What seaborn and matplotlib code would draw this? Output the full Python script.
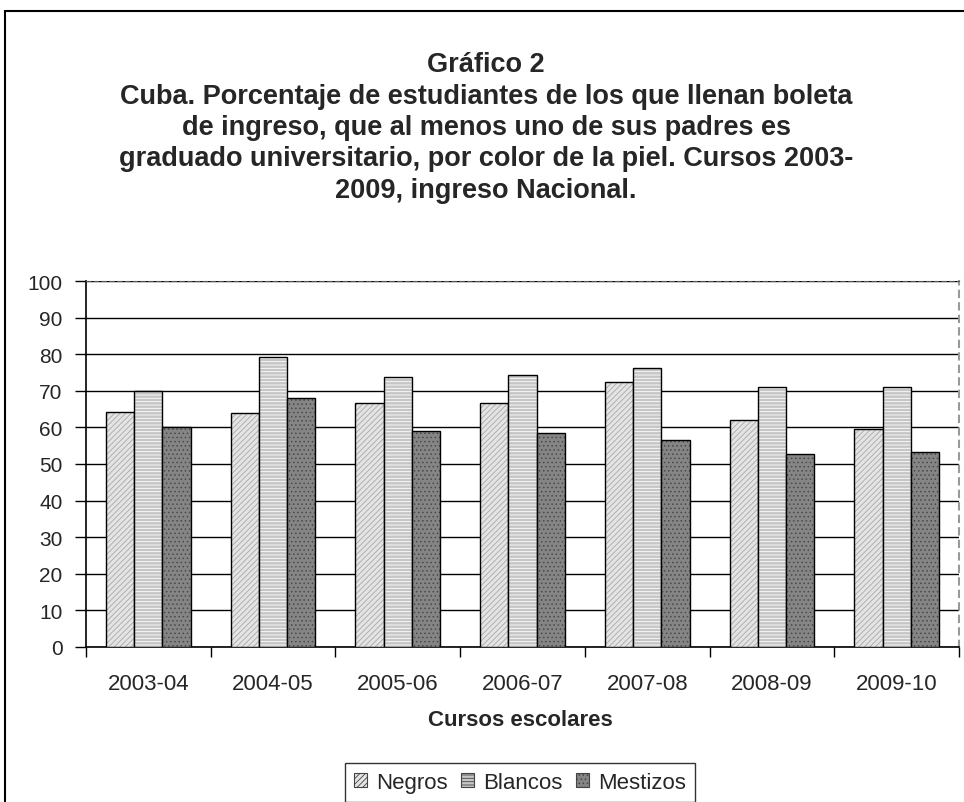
import pandas as pd
import numpy as np
import matplotlib
matplotlib.use("Agg")
import matplotlib.pyplot as plt
import matplotlib.colors as mcolors
from matplotlib.patches import Rectangle, Patch
import seaborn as sns

# --- Data ---
cursos = ['2003-04', '2004-05', '2005-06', '2006-07', '2007-08', '2008-09', '2009-10']
negros = [64.3, 63.8, 66.7, 66.7, 72.4, 62.1, 59.6]
blancos = [70.0, 79.2, 73.9, 74.3, 76.2, 71.1, 71.1]
mestizos = [60.0, 68.0, 59.1, 58.6, 56.6, 52.7, 53.2]
grupos = ['Negros', 'Blancos', 'Mestizos']

df = pd.DataFrame({
    'curso': cursos * 3,
    'grupo': ['Negros'] * 7 + ['Blancos'] * 7 + ['Mestizos'] * 7,
    'valor': negros + blancos + mestizos,
})

# face colour, hatch, hatch colour per group
estilos = {
    'Negros': ('#e4e4e4', '//////', '#a8a8a8'),
    'Blancos': ('#c6c6c6', '-----', '#ffffff'),
    'Mestizos': ('#858585', '....', '#4a4a4a'),
}

sns.set_style("white")
plt.rcParams['font.family'] = ['Liberation Sans', 'DejaVu Sans']
plt.rcParams['hatch.linewidth'] = 0.6

fig = plt.figure(figsize=(9.64, 8.03), dpi=100)
ax = fig.add_axes([86 / 964, 155 / 803, 873 / 964, 366 / 803])

sns.barplot(data=df, x='curso', y='valor', hue='grupo', hue_order=grupos,
            palette=[estilos[g][0] for g in grupos], width=0.68, gap=0,
            edgecolor='black', linewidth=1.0, legend=False, ax=ax, zorder=3)

for cont, g in zip(ax.containers, grupos):
    face, hatch, hcol = estilos[g]
    for bar in cont:
        bar.set_hatch(hatch)
        bar._hatch_color = mcolors.to_rgba(hcol)

# --- Axes styling ---
ax.set_ylim(0, 100)
ax.set_xlim(-0.5, 6.5)
ax.set_yticks(np.arange(0, 101, 10))
ax.yaxis.grid(True, color='black', linewidth=1.0, zorder=0)
ax.set_axisbelow(True)
ax.tick_params(axis='y', direction='out', length=8, width=1, color='black',
               labelsize=15, pad=9, left=True)
ax.set_xticks(range(7))
ax.set_xticklabels(cursos)
ax.set_xticks(np.arange(-0.5, 7, 1), minor=True)
ax.tick_params(axis='x', which='major', length=0, labelsize=16, pad=19)
ax.tick_params(axis='x', which='minor', direction='out', length=7, width=1,
               color='black', bottom=True)
ax.set_xlabel('')
ax.set_ylabel('')

ax.spines['left'].set_color('black')
ax.spines['left'].set_linewidth(1.2)
ax.spines['bottom'].set_color('black')
ax.spines['bottom'].set_linewidth(1.2)
ax.spines['top'].set_linestyle((0, (4, 3)))
ax.spines['top'].set_color('#555555')
ax.spines['right'].set_linestyle((0, (3, 3)))
ax.spines['right'].set_color('#999999')
ax.spines['right'].set_linewidth(1.5)

# --- Titles and labels ---
titulo = ("Gráfico 2\n"
          "Cuba. Porcentaje de estudiantes de los que llenan boleta\n"
          "de ingreso, que al menos uno de sus padres es\n"
          "graduado universitario, por color de la piel. Cursos 2003-\n"
          "2009, ingreso Nacional.")
fig.text(486 / 964, 1 - 128 / 803, titulo, ha='center', va='center',
         fontsize=19.5, fontweight='bold', linespacing=1.27)
fig.text(520 / 964, 1 - 721 / 803, 'Cursos escolares', ha='center',
         va='center', fontsize=16, fontweight='bold')

# outer chart frame (right and bottom edges run off the image)
fig.patches.append(Rectangle((5 / 964, -0.2), 1.2, 1.2 - 12 / 803,
                             transform=fig.transFigure, fill=False,
                             edgecolor='black', linewidth=1.5, clip_on=False))

# --- Legend ---
handles = [Patch(facecolor=estilos[g][0], hatch=estilos[g][1],
                 edgecolor='#444444', linewidth=0.8) for g in grupos]
leg = fig.legend(handles, grupos, loc='upper center', ncol=3,
                 bbox_to_anchor=(520 / 964, 1 - 764 / 803), fontsize=16,
                 frameon=True, fancybox=False, edgecolor='black',
                 handlelength=0.6, handleheight=0.6, handletextpad=0.4,
                 columnspacing=0.6, borderpad=0.4, borderaxespad=0)
leg.get_frame().set_linewidth(1.0)

fig.savefig('out.png', dpi=100)
